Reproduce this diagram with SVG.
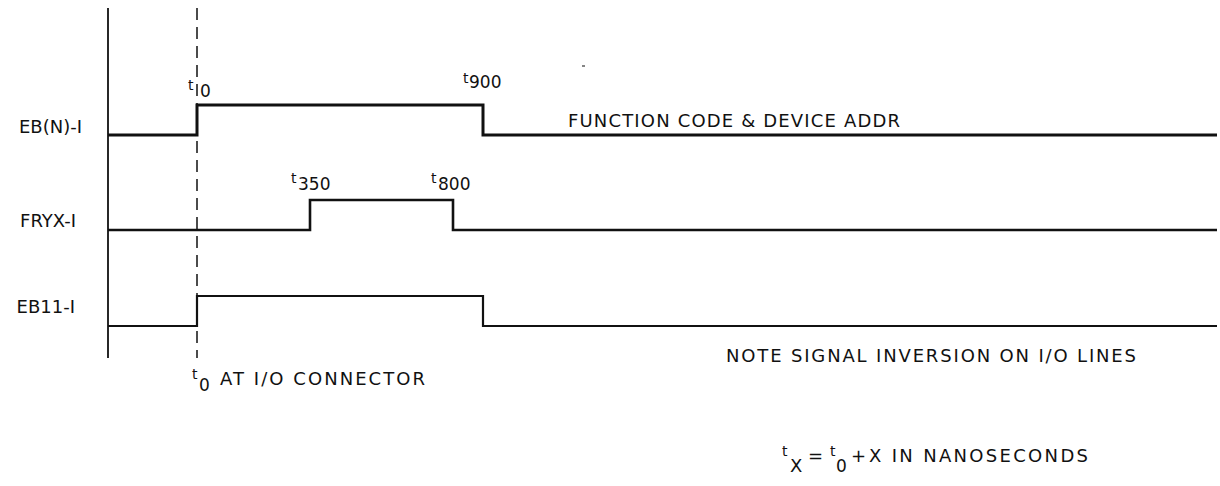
<svg xmlns="http://www.w3.org/2000/svg" width="1220" height="486" viewBox="0 0 1220 486">
<style>
text{font-family:"DejaVu Sans","Liberation Sans",Arial,sans-serif;fill:#111;}
.lbl{font-size:18px;}
.dg{font-size:17px;}
.t{font-size:14px;}
.sig{fill:none;stroke:#111;stroke-linejoin:miter;stroke-linecap:butt;}
.axis{stroke:#111;stroke-width:1.8;}
.dash{stroke:#111;stroke-width:1.5;stroke-dasharray:12 7;}
</style>
<rect width="1220" height="486" fill="#fff"/>
<g id="connectors">
<line class="axis" x1="108" y1="8" x2="108" y2="358"/>
<line class="dash" x1="197" y1="8" x2="197" y2="358"/>
<line x1="582" y1="66" x2="585" y2="66" stroke="#333" stroke-width="1.2"/>
</g>
<g id="ebn">
<text class="lbl" x="82" y="133" text-anchor="end">EB(N)-I</text>
<path class="sig" stroke-width="3" d="M108,135 H197 V105 H483 V135 H1217"/>
<text class="dg"><tspan class="t" x="188" y="90">t</tspan><tspan x="200" y="97">0</tspan></text>
<text class="dg"><tspan class="t" x="463" y="83">t</tspan><tspan x="469" y="88">900</tspan></text>
<text class="lbl" x="568" y="127" textLength="332" lengthAdjust="spacing">FUNCTION CODE &amp; DEVICE ADDR</text>
</g>
<g id="fryx">
<text class="lbl" x="76" y="227" text-anchor="end">FRYX-I</text>
<path class="sig" stroke-width="2.6" d="M108,230 H310 V200 H453 V230 H1217"/>
<text class="dg"><tspan class="t" x="291" y="183">t</tspan><tspan x="298" y="190">350</tspan></text>
<text class="dg"><tspan class="t" x="431" y="183">t</tspan><tspan x="438" y="190">800</tspan></text>
</g>
<g id="eb11">
<text class="lbl" x="75" y="313" text-anchor="end">EB11-I</text>
<path class="sig" stroke-width="2.2" d="M108,326 H197 V296 H483 V326 H1217"/>
</g>
<g id="notes">
<text class="lbl" x="726" y="362" textLength="410" lengthAdjust="spacing">NOTE SIGNAL INVERSION ON I/O LINES</text>
<text class="lbl"><tspan class="t" x="192" y="379">t</tspan><tspan class="dg" x="199" y="391">0</tspan><tspan x="220" y="385" textLength="205" lengthAdjust="spacing">AT I/O CONNECTOR</tspan></text>
<text class="lbl"><tspan class="t" x="782" y="456">t</tspan><tspan x="790" y="472">X</tspan><tspan x="808" y="462">=</tspan><tspan class="t" x="830" y="456">t</tspan><tspan class="dg" x="836" y="472">0</tspan><tspan x="851" y="462">+</tspan><tspan x="869" y="462" textLength="219" lengthAdjust="spacing">X IN NANOSECONDS</tspan></text>
</g>
</svg>
